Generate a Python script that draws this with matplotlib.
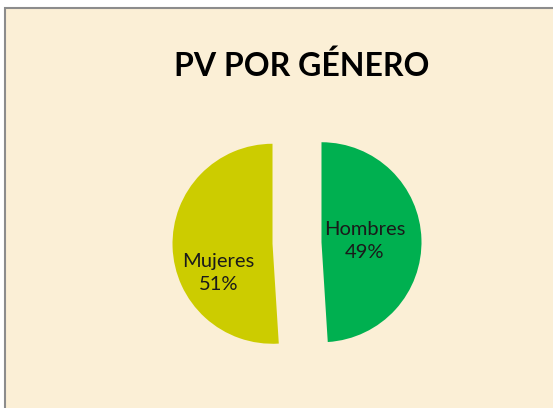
import matplotlib.pyplot as plt
from matplotlib.patches import Rectangle

# data
generos = ["Hombres", "Mujeres"]
porcentajes = [49, 51]
colores = ["#00B050", "#CCCC00"]
titulo = "PV POR GÉNERO"

plt.rcParams["font.family"] = ["Lato", "DejaVu Sans"]

fig = plt.figure(figsize=(5.53, 4.08), dpi=100)
fig.patch.set_facecolor("white")

# chart area background and frame (only left/top edges visible)
bg = fig.add_axes([0, 0, 1, 1])
bg.set_xlim(0, 553)
bg.set_ylim(408, 0)
bg.axis("off")
bg.add_patch(Rectangle((5, 7.5), 560, 420, facecolor="#FBEFD6",
                       edgecolor="#8C8C8C", linewidth=1.5))

ax = fig.add_axes([0, 0, 1, 1])

def etiqueta(pct):
    i = min(range(len(porcentajes)), key=lambda k: abs(porcentajes[k] - pct))
    return f"{generos[i]}\n{pct:.0f}%"

wedges, textos, autotextos = ax.pie(
    porcentajes, colors=colores, startangle=90, counterclock=False,
    explode=[0.245, 0.245], radius=1.0, autopct=etiqueta,
    pctdistance=0.43, labels=None,
    wedgeprops=dict(linewidth=0),
    textprops=dict(fontsize=14.5, color="#1a1a1a", linespacing=1.45),
)

# 100 px per data unit, pie centre at (297, 243) from the top-left
ax.set_xlim(-2.97, 2.56)
ax.set_ylim(-1.65, 2.43)
ax.axis("off")

# Excel places the Mujeres label a little below the bisector
x, y = autotextos[1].get_position()
autotextos[1].set_position((x - 0.11, y - 0.28))

fig.text(302 / 553, (408 - 66) / 408, titulo, ha="center", va="center",
         fontsize=23, fontweight="bold", color="black")

fig.savefig("out.png", dpi=100)
